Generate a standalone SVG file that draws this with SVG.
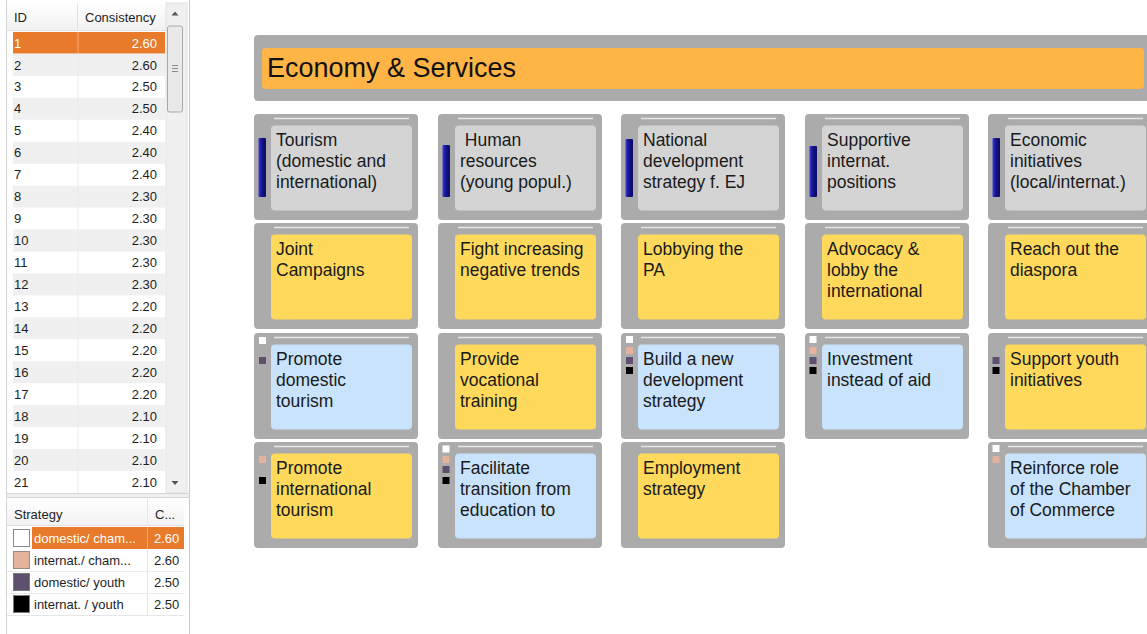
<svg xmlns="http://www.w3.org/2000/svg" width="1147" height="634" viewBox="0 0 1147 634">
<style>
.tbl{font-family:"Liberation Sans",Arial,sans-serif;font-size:13px;fill:#1e1e1e}
.sel{fill:#ffffff}
.num{text-anchor:end}
.outer{fill:#ababab}
.tline{stroke:#e6e6e6;stroke-width:1.6}
.g{fill:#d4d4d4}
.y{fill:#fed95b}
.b{fill:#c8e3fb}
.lbl{font-family:"Liberation Sans",Arial,sans-serif;font-size:17.5px;fill:#1a1a1a}
.mw{fill:#ffffff}
.mp{fill:#e5b39c}
.mv{fill:#5f4f6e}
.mk{fill:#000000}
.even{fill:#f0f0f0}
.rowline{stroke:#ebebeb;stroke-width:1}
</style>
<defs>
<linearGradient id="bar" x1="0" y1="0" x2="1" y2="0">
<stop offset="0" stop-color="#3a3ad8"/>
<stop offset="0.45" stop-color="#14148a"/>
<stop offset="1" stop-color="#0a0a60"/>
</linearGradient>
<linearGradient id="hdr" x1="0" y1="0" x2="0" y2="1">
<stop offset="0" stop-color="#ffffff"/>
<stop offset="1" stop-color="#f2f2f2"/>
</linearGradient>
</defs>
<rect width="1147" height="634" fill="#ffffff"/>

<g id="left-panel">
<line x1="6.5" y1="0" x2="6.5" y2="634" stroke="#d6d6d6"/>
<line x1="189.5" y1="0" x2="189.5" y2="634" stroke="#c8c8c8"/>
<rect x="7" y="3" width="159" height="27" fill="url(#hdr)"/>
<line x1="7" y1="30.5" x2="166" y2="30.5" stroke="#e2e2e2"/>
<line x1="77.5" y1="3" x2="77.5" y2="30" stroke="#e2e2e2"/>
<text class="tbl" x="14" y="22">ID</text>
<text class="tbl" x="85" y="22">Consistency</text>
<rect class="even" x="13" y="54" width="152" height="21.95"/>
<rect class="even" x="13" y="97.85" width="152" height="21.95"/>
<rect class="even" x="13" y="141.75" width="152" height="21.95"/>
<rect class="even" x="13" y="185.65" width="152" height="21.95"/>
<rect class="even" x="13" y="229.55" width="152" height="21.95"/>
<rect class="even" x="13" y="273.45" width="152" height="21.95"/>
<rect class="even" x="13" y="317.35" width="152" height="21.95"/>
<rect class="even" x="13" y="361.25" width="152" height="21.95"/>
<rect class="even" x="13" y="405.15" width="152" height="21.95"/>
<rect class="even" x="13" y="449.05" width="152" height="21.95"/>
<line class="rowline" x1="78" y1="54" x2="78" y2="493"/>
<rect x="13" y="32" width="152" height="21.5" fill="#e87a2c"/>
<line x1="78" y1="32" x2="78" y2="53.5" stroke="#f3a877"/>
<text class="tbl sel" x="14" y="47.5">1</text><text class="tbl sel num" x="157" y="47.5">2.60</text>
<text class="tbl" x="14" y="69.5">2</text><text class="tbl num" x="157" y="69.5">2.60</text>
<text class="tbl" x="14" y="91.4">3</text><text class="tbl num" x="157" y="91.4">2.50</text>
<text class="tbl" x="14" y="113.4">4</text><text class="tbl num" x="157" y="113.4">2.50</text>
<text class="tbl" x="14" y="135.3">5</text><text class="tbl num" x="157" y="135.3">2.40</text>
<text class="tbl" x="14" y="157.3">6</text><text class="tbl num" x="157" y="157.3">2.40</text>
<text class="tbl" x="14" y="179.2">7</text><text class="tbl num" x="157" y="179.2">2.40</text>
<text class="tbl" x="14" y="201.2">8</text><text class="tbl num" x="157" y="201.2">2.30</text>
<text class="tbl" x="14" y="223.1">9</text><text class="tbl num" x="157" y="223.1">2.30</text>
<text class="tbl" x="14" y="245.1">10</text><text class="tbl num" x="157" y="245.1">2.30</text>
<text class="tbl" x="14" y="267">11</text><text class="tbl num" x="157" y="267">2.30</text>
<text class="tbl" x="14" y="289">12</text><text class="tbl num" x="157" y="289">2.30</text>
<text class="tbl" x="14" y="310.9">13</text><text class="tbl num" x="157" y="310.9">2.20</text>
<text class="tbl" x="14" y="332.9">14</text><text class="tbl num" x="157" y="332.9">2.20</text>
<text class="tbl" x="14" y="354.8">15</text><text class="tbl num" x="157" y="354.8">2.20</text>
<text class="tbl" x="14" y="376.8">16</text><text class="tbl num" x="157" y="376.8">2.20</text>
<text class="tbl" x="14" y="398.7">17</text><text class="tbl num" x="157" y="398.7">2.20</text>
<text class="tbl" x="14" y="420.7">18</text><text class="tbl num" x="157" y="420.7">2.10</text>
<text class="tbl" x="14" y="442.6">19</text><text class="tbl num" x="157" y="442.6">2.10</text>
<text class="tbl" x="14" y="464.6">20</text><text class="tbl num" x="157" y="464.6">2.10</text>
<text class="tbl" x="14" y="486.5">21</text><text class="tbl num" x="157" y="486.5">2.10</text>
<rect x="166" y="3" width="21" height="490" fill="#f0f0f0" stroke="#e2e2e2"/>
<rect x="167.5" y="26" width="15" height="86" rx="2" fill="#e9e9e9" stroke="#a9a9a9"/>
<line x1="172" y1="65.5" x2="178" y2="65.5" stroke="#8a8a8a"/>
<line x1="172" y1="68.5" x2="178" y2="68.5" stroke="#8a8a8a"/>
<line x1="172" y1="71.5" x2="178" y2="71.5" stroke="#8a8a8a"/>
<polygon points="171.5,15.5 178.5,15.5 175,11.5" fill="#555"/>
<polygon points="171.5,481 178.5,481 175,485" fill="#555"/>
<line x1="6" y1="493.5" x2="190" y2="493.5" stroke="#d6d6d6"/>
<rect x="7" y="494" width="182" height="3" fill="#f0f0f0"/>
<line x1="6" y1="497.5" x2="190" y2="497.5" stroke="#d6d6d6"/>
<rect x="7" y="499" width="177" height="26" fill="url(#hdr)"/>
<line x1="7" y1="525.5" x2="184" y2="525.5" stroke="#e2e2e2"/>
<line x1="147.5" y1="499" x2="147.5" y2="616" stroke="#e6e6e6"/>
<text class="tbl" x="14" y="519">Strategy</text>
<text class="tbl" x="155" y="519">C...</text>
<rect x="32" y="527" width="152" height="22" fill="#e87a2c"/>
<line x1="147.5" y1="527" x2="147.5" y2="549" stroke="#f3a877"/>
<rect x="13.5" y="529.5" width="16" height="17" fill="#ffffff" stroke="#8a8a8a"/>
<text class="tbl sel" x="34" y="543">domestic/ cham...</text>
<text class="tbl sel" x="154" y="543">2.60</text>
<line class="rowline" x1="7" y1="571.5" x2="184" y2="571.5"/>
<rect x="13.5" y="551.5" width="16" height="17" fill="#e5b39c" stroke="#9a8a84"/>
<text class="tbl" x="34" y="565">internat./ cham...</text>
<text class="tbl" x="154" y="565">2.60</text>
<line class="rowline" x1="7" y1="593.5" x2="184" y2="593.5"/>
<rect x="13.5" y="573.5" width="16" height="17" fill="#5f4f6e" stroke="#7a7a7a"/>
<text class="tbl" x="34" y="587">domestic/ youth</text>
<text class="tbl" x="154" y="587">2.50</text>
<rect x="13.5" y="595.5" width="16" height="17" fill="#000000" stroke="#7a7a7a"/>
<text class="tbl" x="34" y="609">internat. / youth</text>
<text class="tbl" x="154" y="609">2.50</text>
<line x1="7" y1="615.5" x2="184" y2="615.5" stroke="#e6e6e6"/>
</g>

<g id="header">
<rect class="outer" x="254" y="35" width="900" height="66" rx="4"/>
<rect x="262" y="48" width="882" height="41" rx="4" fill="#ffb446"/>
<text x="267" y="77" font-family="Liberation Sans, Arial, sans-serif" font-size="27" fill="#111">Economy &amp; Services</text>
</g>

<g id="connectors"></g>

<!-- Column 1 -->
<g id="c1r1">
<rect class="outer" x="254" y="114" width="164" height="106" rx="4"/>
<line class="tline" x1="274" y1="118.5" x2="409" y2="118.5"/>
<rect class="g" x="271" y="125.5" width="141" height="85" rx="4"/>
<rect x="258.5" y="138" width="7.5" height="59" rx="1" fill="url(#bar)"/>
<text class="lbl" x="276"><tspan x="276" y="146">Tourism</tspan><tspan x="276" y="167">(domestic and</tspan><tspan x="276" y="188">international)</tspan></text>
</g>
<g id="c1r2">
<rect class="outer" x="254" y="223" width="164" height="106" rx="4"/>
<line class="tline" x1="274" y1="227.5" x2="409" y2="227.5"/>
<rect class="y" x="271" y="234.5" width="141" height="85" rx="4"/>
<text class="lbl"><tspan x="276" y="255">Joint</tspan><tspan x="276" y="276">Campaigns</tspan></text>
</g>
<g id="c1r3">
<rect class="outer" x="254" y="333" width="164" height="106" rx="4"/>
<line class="tline" x1="274" y1="337.5" x2="409" y2="337.5"/>
<rect class="b" x="271" y="344.5" width="141" height="85" rx="4"/>
<rect class="mw" x="259" y="337" width="7" height="7"/>
<rect class="mv" x="259" y="357" width="7" height="7"/>
<text class="lbl"><tspan x="276" y="365">Promote</tspan><tspan x="276" y="386">domestic</tspan><tspan x="276" y="407">tourism</tspan></text>
</g>
<g id="c1r4">
<rect class="outer" x="254" y="442" width="164" height="106" rx="4"/>
<line class="tline" x1="274" y1="446.5" x2="409" y2="446.5"/>
<rect class="y" x="271" y="453.5" width="141" height="85" rx="4"/>
<rect class="mp" x="259" y="456" width="7" height="7"/>
<rect class="mk" x="259" y="477" width="7" height="7"/>
<text class="lbl"><tspan x="276" y="474">Promote</tspan><tspan x="276" y="495">international</tspan><tspan x="276" y="516">tourism</tspan></text>
</g>

<!-- Column 2 -->
<g id="c2r1">
<rect class="outer" x="438" y="114" width="164" height="106" rx="4"/>
<line class="tline" x1="458" y1="118.5" x2="593" y2="118.5"/>
<rect class="g" x="455" y="125.5" width="141" height="85" rx="4"/>
<rect x="442.5" y="145" width="7.5" height="52" rx="1" fill="url(#bar)"/>
<text class="lbl" xml:space="preserve"><tspan x="460" y="146"> Human</tspan><tspan x="460" y="167">resources</tspan><tspan x="460" y="188">(young popul.)</tspan></text>
</g>
<g id="c2r2">
<rect class="outer" x="438" y="223" width="164" height="106" rx="4"/>
<line class="tline" x1="458" y1="227.5" x2="593" y2="227.5"/>
<rect class="y" x="455" y="234.5" width="141" height="85" rx="4"/>
<text class="lbl"><tspan x="460" y="255">Fight increasing</tspan><tspan x="460" y="276">negative trends</tspan></text>
</g>
<g id="c2r3">
<rect class="outer" x="438" y="333" width="164" height="106" rx="4"/>
<line class="tline" x1="458" y1="337.5" x2="593" y2="337.5"/>
<rect class="y" x="455" y="344.5" width="141" height="85" rx="4"/>
<text class="lbl"><tspan x="460" y="365">Provide</tspan><tspan x="460" y="386">vocational</tspan><tspan x="460" y="407">training</tspan></text>
</g>
<g id="c2r4">
<rect class="outer" x="438" y="442" width="164" height="106" rx="4"/>
<line class="tline" x1="458" y1="446.5" x2="593" y2="446.5"/>
<rect class="b" x="455" y="453.5" width="141" height="85" rx="4"/>
<rect class="mw" x="442.5" y="445.5" width="7" height="7"/>
<rect class="mp" x="442.5" y="456" width="7" height="7"/>
<rect class="mv" x="442.5" y="466" width="7" height="7"/>
<rect class="mk" x="442.5" y="477" width="7" height="7"/>
<text class="lbl"><tspan x="460" y="474">Facilitate</tspan><tspan x="460" y="495">transition from</tspan><tspan x="460" y="516">education to</tspan></text>
</g>

<!-- Column 3 -->
<g id="c3r1">
<rect class="outer" x="621" y="114" width="164" height="106" rx="4"/>
<line class="tline" x1="641" y1="118.5" x2="776" y2="118.5"/>
<rect class="g" x="638" y="125.5" width="141" height="85" rx="4"/>
<rect x="625.5" y="139" width="7.5" height="58" rx="1" fill="url(#bar)"/>
<text class="lbl"><tspan x="643" y="146">National</tspan><tspan x="643" y="167">development</tspan><tspan x="643" y="188">strategy f. EJ</tspan></text>
</g>
<g id="c3r2">
<rect class="outer" x="621" y="223" width="164" height="106" rx="4"/>
<line class="tline" x1="641" y1="227.5" x2="776" y2="227.5"/>
<rect class="y" x="638" y="234.5" width="141" height="85" rx="4"/>
<text class="lbl"><tspan x="643" y="255">Lobbying the</tspan><tspan x="643" y="276">PA</tspan></text>
</g>
<g id="c3r3">
<rect class="outer" x="621" y="333" width="164" height="106" rx="4"/>
<line class="tline" x1="641" y1="337.5" x2="776" y2="337.5"/>
<rect class="b" x="638" y="344.5" width="141" height="85" rx="4"/>
<rect class="mw" x="626" y="336" width="7" height="7"/>
<rect class="mp" x="626" y="347" width="7" height="7"/>
<rect class="mv" x="626" y="357" width="7" height="7"/>
<rect class="mk" x="626" y="367" width="7" height="7"/>
<text class="lbl"><tspan x="643" y="365">Build a new</tspan><tspan x="643" y="386">development</tspan><tspan x="643" y="407">strategy</tspan></text>
</g>
<g id="c3r4">
<rect class="outer" x="621" y="442" width="164" height="106" rx="4"/>
<line class="tline" x1="641" y1="446.5" x2="776" y2="446.5"/>
<rect class="y" x="638" y="453.5" width="141" height="85" rx="4"/>
<text class="lbl"><tspan x="643" y="474">Employment</tspan><tspan x="643" y="495">strategy</tspan></text>
</g>

<!-- Column 4 -->
<g id="c4r1">
<rect class="outer" x="805" y="114" width="164" height="106" rx="4"/>
<line class="tline" x1="825" y1="118.5" x2="960" y2="118.5"/>
<rect class="g" x="822" y="125.5" width="141" height="85" rx="4"/>
<rect x="809.5" y="146" width="7.5" height="51" rx="1" fill="url(#bar)"/>
<text class="lbl"><tspan x="827" y="146">Supportive</tspan><tspan x="827" y="167">internat.</tspan><tspan x="827" y="188">positions</tspan></text>
</g>
<g id="c4r2">
<rect class="outer" x="805" y="223" width="164" height="106" rx="4"/>
<line class="tline" x1="825" y1="227.5" x2="960" y2="227.5"/>
<rect class="y" x="822" y="234.5" width="141" height="85" rx="4"/>
<text class="lbl"><tspan x="827" y="255">Advocacy &amp;</tspan><tspan x="827" y="276">lobby the</tspan><tspan x="827" y="297">international</tspan></text>
</g>
<g id="c4r3">
<rect class="outer" x="805" y="333" width="164" height="106" rx="4"/>
<line class="tline" x1="825" y1="337.5" x2="960" y2="337.5"/>
<rect class="b" x="822" y="344.5" width="141" height="85" rx="4"/>
<rect class="mw" x="809.5" y="336" width="7" height="7"/>
<rect class="mp" x="809.5" y="347" width="7" height="7"/>
<rect class="mv" x="809.5" y="357" width="7" height="7"/>
<rect class="mk" x="809.5" y="367" width="7" height="7"/>
<text class="lbl"><tspan x="827" y="365">Investment</tspan><tspan x="827" y="386">instead of aid</tspan></text>
</g>

<!-- Column 5 -->
<g id="c5r1">
<rect class="outer" x="988" y="114" width="164" height="106" rx="4"/>
<line class="tline" x1="1008" y1="118.5" x2="1143" y2="118.5"/>
<rect class="g" x="1005" y="125.5" width="141" height="85" rx="4"/>
<rect x="992.5" y="138" width="7.5" height="59" rx="1" fill="url(#bar)"/>
<text class="lbl"><tspan x="1010" y="146">Economic</tspan><tspan x="1010" y="167">initiatives</tspan><tspan x="1010" y="188">(local/internat.)</tspan></text>
</g>
<g id="c5r2">
<rect class="outer" x="988" y="223" width="164" height="106" rx="4"/>
<line class="tline" x1="1008" y1="227.5" x2="1143" y2="227.5"/>
<rect class="y" x="1005" y="234.5" width="141" height="85" rx="4"/>
<text class="lbl"><tspan x="1010" y="255">Reach out the</tspan><tspan x="1010" y="276">diaspora</tspan></text>
</g>
<g id="c5r3">
<rect class="outer" x="988" y="333" width="164" height="106" rx="4"/>
<line class="tline" x1="1008" y1="337.5" x2="1143" y2="337.5"/>
<rect class="y" x="1005" y="344.5" width="141" height="85" rx="4"/>
<rect class="mv" x="992.5" y="357" width="7" height="7"/>
<rect class="mk" x="992.5" y="367" width="7" height="7"/>
<text class="lbl"><tspan x="1010" y="365">Support youth</tspan><tspan x="1010" y="386">initiatives</tspan></text>
</g>
<g id="c5r4">
<rect class="outer" x="988" y="442" width="164" height="106" rx="4"/>
<line class="tline" x1="1008" y1="446.5" x2="1143" y2="446.5"/>
<rect class="b" x="1005" y="453.5" width="141" height="85" rx="4"/>
<rect class="mw" x="992.5" y="445" width="7" height="7"/>
<rect class="mp" x="992.5" y="456" width="7" height="7"/>
<text class="lbl"><tspan x="1010" y="474">Reinforce role</tspan><tspan x="1010" y="495">of the Chamber</tspan><tspan x="1010" y="516">of Commerce</tspan></text>
</g>
</svg>
